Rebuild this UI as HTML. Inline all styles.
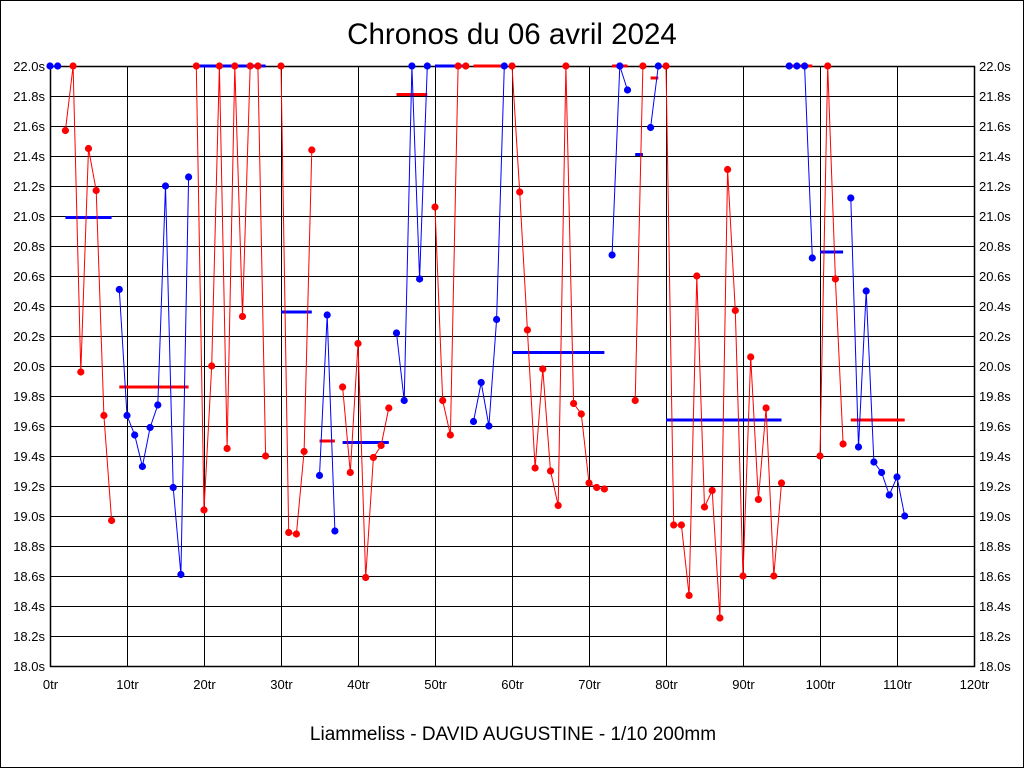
<!DOCTYPE html>
<html><head><meta charset="utf-8"><style>
html,body{margin:0;padding:0;background:#fff}
svg{display:block}
text{font-family:"Liberation Sans",sans-serif;fill:#000}
</style></head><body>
<svg id="s" width="1024" height="768" xmlns="http://www.w3.org/2000/svg">
<rect x="0.5" y="0.5" width="1023" height="767" fill="#fff" stroke="#000"/>
<text x="512" y="44" font-size="29.5" text-anchor="middle">Chronos du 06 avril 2024</text>
<text x="513" y="740" font-size="19" text-anchor="middle">Liammeliss - DAVID AUGUSTINE - 1/10 200mm</text>
<g id="g"></g>
</svg>
<script>
var L=50,R=974,T=66,B=666;
function X(l){return L+l*(R-L)/120}
function Y(v){return T+(22-v)*150}
var h='';
for(var i=0;i<=20;i++){var y=T+i*30;var v=(22-i*0.2).toFixed(1);
h+='<line x1="'+L+'" x2="'+R+'" y1="'+(y+0.5)+'" y2="'+(y+0.5)+'" stroke="#000" stroke-width="1"/>';
h+='<text x="45" y="'+(y+5)+'" font-size="13" text-anchor="end">'+v+'s</text>';
h+='<text x="979" y="'+(y+5)+'" font-size="13">'+v+'s</text>';}
for(var i=0;i<=12;i++){var x=Math.round(X(i*10))+0.5;
h+='<line x1="'+x+'" x2="'+x+'" y1="'+T+'" y2="'+B+'" stroke="#000" stroke-width="1"/>';
h+='<text x="'+x+'" y="689" font-size="13" text-anchor="middle">'+(i*10)+'tr</text>';}
h+='<rect x="'+(L+0.5)+'" y="'+(T+0.5)+'" width="'+(R-L)+'" height="'+(B-T)+'" fill="none" stroke="#000" stroke-width="1.5"/>';
var S=[
['#00f',0,[22,22],22.0],
['#f00',2,[21.57,22,19.96,21.45,21.17,19.67,18.97],20.99],
['#00f',9,[20.51,19.67,19.54,19.33,19.59,19.74,21.2,19.19,18.61,21.26],19.86],
['#f00',19,[22,19.04,20.0,22,19.45,22,20.33,22,22,19.4],22.0],
['#f00',30,[22,18.89,18.88,19.43,21.44],20.36],
['#00f',35,[19.27,20.34,18.9],19.5],
['#f00',38,[19.86,19.29,20.15,18.59,19.39,19.47,19.72],19.49],
['#00f',45,[20.22,19.77,22,20.58,22],21.81],
['#f00',50,[21.06,19.77,19.54,22,22],22.0],
['#00f',55,[19.63,19.89,19.6,20.31,22],22.0],
['#f00',60,[22,21.16,20.24,19.32,19.98,19.3,19.07,22,19.75,19.68,19.22,19.19,19.18],20.09],
['#00f',73,[20.74,22,21.84],22.0],
['#f00',76,[19.77,22],21.41],
['#00f',78,[21.59,22],21.92],
['#f00',80,[22,18.94,18.94,18.47,20.6,19.06,19.17,18.32,21.31,20.37,18.6,20.06,19.11,19.72,18.6,19.22],19.64],
['#00f',96,[22,22,22,20.72],22.0],
['#f00',100,[19.4,22,20.58,19.48],20.76],
['#00f',104,[21.12,19.46,20.5,19.36,19.29,19.14,19.26,19.0],19.64]
];
S.forEach(function(s,k){
 var c=s[0],oc=c=='#f00'?'#00f':'#f00',n=s[2].length;
 if(k>0){h+='<line x1="'+X(s[1])+'" x2="'+X(s[1]+n-1)+'" y1="'+Y(s[3])+'" y2="'+Y(s[3])+'" stroke="'+oc+'" stroke-width="3"/>';}
 var p=s[2].map(function(v,i){return X(s[1]+i).toFixed(1)+','+Y(v).toFixed(1)}).join(' ');
 h+='<polyline points="'+p+'" fill="none" stroke="'+c+'" stroke-width="1"/>';
 s[2].forEach(function(v,i){h+='<circle cx="'+X(s[1]+i).toFixed(1)+'" cy="'+Y(v).toFixed(1)+'" r="3.6" fill="'+c+'"/>';});
});
document.getElementById('g').innerHTML=h;
</script>
</body></html>
